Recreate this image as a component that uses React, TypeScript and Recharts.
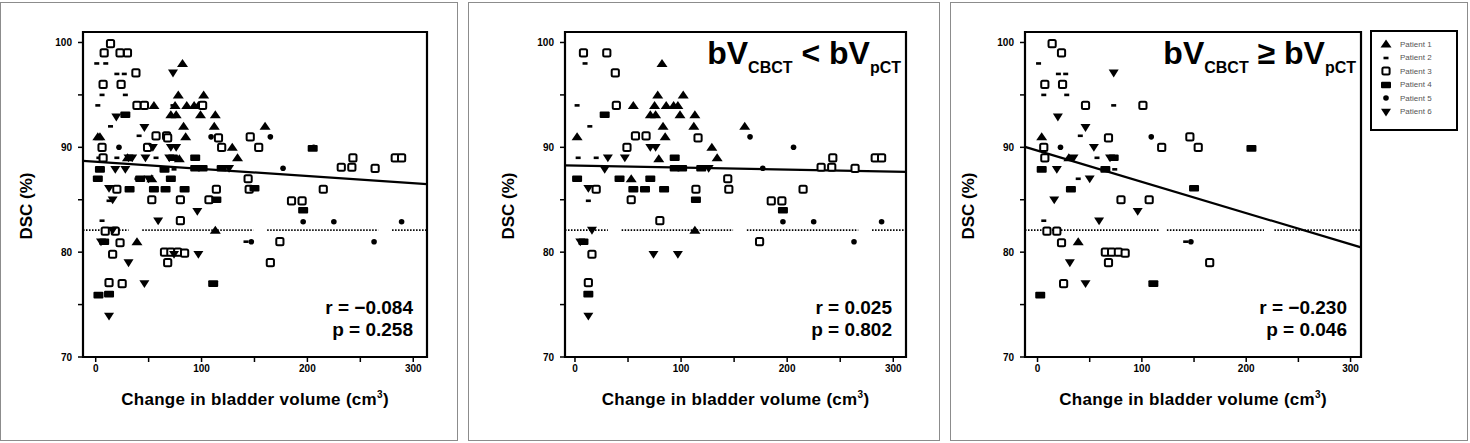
import React from "react";
import {
  ScatterChart,
  Scatter,
  XAxis,
  YAxis,
  ReferenceArea,
  ReferenceLine,
} from "recharts";

type Pt = [number, number];

// bV_CBCT < bV_pCT  (x: change in bladder volume cm3, y: DSC %)
const lessP1: Pt[] = [
  [82, 98], [55, 94], [2, 91], [78, 95], [102, 95], [75, 94], [86, 94], [93, 94],
  [97, 94], [71, 93.1], [76, 93.1], [99, 93.1], [113, 93.1], [83, 92], [112, 92],
  [160, 92], [85, 91], [129, 90], [79, 88.9], [134, 89], [53, 87], [113, 82.1],
];
const lessP2: Pt[] = [[9.5, 98], [2, 94], [14, 92], [3, 89], [20, 89], [12.6, 84.9]];
const lessP3: Pt[] = [
  [8, 99], [30, 99], [38, 97.1], [39, 94], [57, 91.1], [67, 91.1], [116, 90.9],
  [49, 90], [243, 89], [283, 89], [289, 89], [232, 88.1], [242, 88.1], [264, 88],
  [144, 87], [20, 86], [114, 86], [145, 86], [215, 86], [53, 85], [185, 84.9],
  [195, 84.9], [80, 83], [174, 81], [16, 79.8], [12.6, 77.1],
];
const lessP4: Pt[] = [
  [28, 93.1], [94, 89], [94, 88], [101, 88], [119, 88], [2, 87], [42, 87], [71, 87],
  [55, 86], [66, 86], [84, 86], [114, 85], [196, 84], [8, 81], [12.6, 76],
];
const lessP5: Pt[] = [[165, 91], [206, 90], [177, 88], [196, 82.9], [225, 82.9], [289, 82.9], [263, 81]];
const lessP6: Pt[] = [
  [71, 90], [76, 90], [31, 89], [47, 89], [28, 87.9], [126, 88], [12.6, 86.1],
  [16, 82.1], [5, 81], [74, 79.8], [97, 79.8], [12.6, 73.9],
];

// bV_CBCT >= bV_pCT
const moreP1: Pt[] = [[4, 91], [30, 89], [39, 81]];
const moreP2: Pt[] = [
  [1, 98], [20, 97], [27, 97], [6, 95], [28, 95], [73, 94], [41, 91.1], [57, 89],
  [74, 87.9], [39, 87], [6, 83], [142, 81],
];
const moreP3: Pt[] = [
  [14, 99.9], [23, 99], [7, 96], [24, 96], [46, 94], [101, 94], [68, 90.9], [146, 91],
  [6, 90], [119, 90], [154, 90], [7, 89], [80, 85], [107, 85], [9, 82], [18.5, 82],
  [23, 80.9], [65, 80], [71, 80], [77.5, 80], [84, 79.9], [68, 79], [165, 79], [25, 77],
];
const moreP4: Pt[] = [[205, 89.9], [73, 89], [4, 87.9], [65, 87.9], [32, 86], [150, 86.1], [111, 77], [2.6, 75.9]];
const moreP5: Pt[] = [[109, 91], [22, 90], [147, 81]];
const moreP6: Pt[] = [
  [73, 97.1], [19.5, 92.9], [46, 91.9], [54, 90], [34.5, 89], [69.5, 89], [18.5, 87.9],
  [50, 87], [16, 85], [96, 83.9], [59, 83], [31, 79], [46, 77],
];

const patients = ["Patient 1", "Patient 2", "Patient 3", "Patient 4", "Patient 5", "Patient 6"];
const xTicks = [0, 50, 100, 150, 200, 250, 300];
const xTickLabels = [0, 100, 200, 300];
const yTicks = [70, 75, 80, 85, 90, 95, 100];
const yTickLabels = [70, 80, 90, 100];
const dscThreshold = 82.1;

const fitAll = { intercept: 88.62, slope: -0.0068 };
const fitLess = { intercept: 88.26, slope: -0.0019 };
const fitMore = { intercept: 89.69, slope: -0.0298 };

const gapsAll: Pt[] = [[31, 44], [149, 162], [267, 280]];
const gapsLess: Pt[] = [[31, 44], [149, 162], [267, 280]];
const gapsMore: Pt[] = [[116, 124], [217, 227]];

const statsAll = ["r = \u22120.084", "p = 0.258"];
const statsLess = ["r = 0.025", "p = 0.802"];
const statsMore = ["r = \u22120.230", "p = 0.046"];

const FONT = '"Liberation Sans", Arial, sans-serif';

function Marker({ kind, cx, cy }: { kind: number; cx: number; cy: number }) {
  switch (kind) {
    case 0:
      return <polygon points={`${cx},${cy - 4.5} ${cx - 5.5},${cy + 3.5} ${cx + 5.5},${cy + 3.5}`} fill="#000" />;
    case 1:
      return <rect x={cx - 2.5} y={cy - 1.3} width={5} height={2.6} fill="#000" />;
    case 2:
      return (
        <rect x={cx - 3.6} y={cy - 3.6} width={7.2} height={7.2} rx={1.5}
          fill="#fff" stroke="#000" strokeWidth={2} />
      );
    case 3:
      return <rect x={cx - 5} y={cy - 3.3} width={10} height={6.6} rx={1} fill="#000" />;
    case 4:
      return <circle cx={cx} cy={cy} r={2.8} fill="#000" />;
    default:
      return <polygon points={`${cx - 5},${cy - 3.3} ${cx + 5},${cy - 3.3} ${cx},${cy + 4.5}`} fill="#000" />;
  }
}

const toPts = (arr: Pt[]) => arr.map(([x, y]) => ({ x, y }));

interface PanelProps {
  left: number;
  width: number;
  boxLeft: number;
  boxRight: number;
  domain: [number, number];
  series: Pt[][];
  fit: { intercept: number; slope: number };
  gaps: Pt[];
  stats: string[];
  title?: string;
}

function Panel({ left, width, boxLeft, boxRight, domain, series, fit, gaps, stats, title }: PanelProps) {
  const boxTop = 32;
  const boxBottom = 357;
  const margin = {
    top: boxTop,
    right: left + width - boxRight,
    bottom: 443 - boxBottom - 30,
    left: boxLeft - left - 60,
  };
  const [d0, d1] = domain;
  const segs: Pt[] = [];
  let start = d0;
  gaps.forEach(([a, b]) => {
    segs.push([start, a]);
    start = b;
  });
  segs.push([start, d1]);
  const boxCenter = (boxLeft + boxRight) / 2;

  return (
    <>
      <div
        style={{
          position: "absolute", left, top: 2, width: width - 2, height: 437,
          border: "1px solid #8c8c8c",
        }}
      />
      <div style={{ position: "absolute", left, top: 0 }}>
        <ScatterChart width={width} height={443} margin={margin}>
          <XAxis
            type="number"
            dataKey="x"
            domain={domain}
            ticks={xTicks}
            allowDataOverflow
            interval={0}
            tickFormatter={(v: number) => (xTickLabels.includes(v) ? String(v) : "")}
            axisLine={false}
            tickLine={{ stroke: "#000", strokeWidth: 1.5 }}
            tickSize={5}
            tickMargin={3}
            height={30}
            tick={{ fontSize: 10, fontWeight: 700, fill: "#000", fontFamily: FONT }}
          />
          <YAxis
            type="number"
            dataKey="y"
            domain={[70, 101]}
            ticks={yTicks}
            allowDataOverflow
            interval={0}
            tickFormatter={(v: number) => (yTickLabels.includes(v) ? String(v) : "")}
            axisLine={false}
            tickLine={{ stroke: "#000", strokeWidth: 1.5 }}
            tickSize={5}
            tickMargin={6}
            width={60}
            tick={{ fontSize: 10, fontWeight: 700, fill: "#000", fontFamily: FONT }}
          />
          <ReferenceArea
            x1={d0} x2={d1} y1={70} y2={101}
            fill="none" stroke="#000" strokeWidth={2.2} ifOverflow="visible"
          />
          {segs.map(([a, b], i) => (
            <ReferenceLine
              key={`d${i}`}
              segment={[{ x: a, y: dscThreshold }, { x: b, y: dscThreshold }]}
              stroke="#000" strokeWidth={1.6} strokeDasharray="1.5 1.5" ifOverflow="visible"
            />
          ))}
          <ReferenceLine
            segment={[
              { x: d0, y: fit.intercept + fit.slope * d0 },
              { x: d1, y: fit.intercept + fit.slope * d1 },
            ]}
            stroke="#000" strokeWidth={2.2} ifOverflow="visible"
          />
          {series.map((s, i) => (
            <Scatter
              key={patients[i]}
              name={patients[i]}
              data={toPts(s)}
              isAnimationActive={false}
              shape={(p: any) => <Marker kind={i} cx={p.cx} cy={p.cy} />}
            />
          ))}
        </ScatterChart>
      </div>
      <div
        style={{
          position: "absolute", left: boxLeft - 57, top: 206, transform: "translate(-50%, -50%) rotate(-90deg)",
          fontFamily: FONT, fontWeight: 700, fontSize: 17, whiteSpace: "nowrap", lineHeight: 1,
        }}
      >
        DSC (%)
      </div>
      <div
        style={{
          position: "absolute", left: boxCenter, top: 390, transform: "translateX(-50%)",
          fontFamily: FONT, fontWeight: 700, fontSize: 17, letterSpacing: 0.3, whiteSpace: "nowrap", lineHeight: 1,
        }}
      >
        Change in bladder volume (cm<sup style={{ fontSize: 10 }}>3</sup>)
      </div>
      <div
        style={{
          position: "absolute", right: 1470 - (boxRight - 14), top: 297, textAlign: "right",
          fontFamily: FONT, fontWeight: 700, fontSize: 19, lineHeight: "22px", whiteSpace: "nowrap",
        }}
      >
        <div>{stats[0]}</div>
        <div>{stats[1]}</div>
      </div>
      {title && (
        <div
          style={{
            position: "absolute", right: 1470 - (boxRight - 5), top: 37,
            fontFamily: FONT, fontWeight: 700, fontSize: 32, whiteSpace: "nowrap", lineHeight: 1,
          }}
        >
          bV<span style={{ fontSize: 16, verticalAlign: "-9px" }}>CBCT</span>
          {` ${title} `}bV<span style={{ fontSize: 16, verticalAlign: "-9px" }}>pCT</span>
        </div>
      )}
    </>
  );
}

function PatientLegend() {
  return (
    <div
      style={{
        position: "absolute", left: 1370, top: 30, width: 84, height: 97,
        border: "2px solid #000", background: "#fff",
      }}
    >
      {patients.map((name, i) => (
        <div
          key={name}
          style={{ position: "absolute", left: 8, top: 6 + i * 13.5, height: 12, display: "flex", alignItems: "center" }}
        >
          <svg width={12} height={12}>
            <Marker kind={i} cx={6} cy={6} />
          </svg>
          <span style={{ marginLeft: 8, fontFamily: FONT, fontSize: 8, color: "#555" }}>{name}</span>
        </div>
      ))}
    </div>
  );
}

export default function App() {
  const allSeries = [
    [...lessP1, ...moreP1],
    [...lessP2, ...moreP2],
    [...lessP3, ...moreP3],
    [...lessP4, ...moreP4],
    [...lessP5, ...moreP5],
    [...lessP6, ...moreP6],
  ];
  return (
    <div style={{ position: "absolute", left: 0, top: 0, width: 1470, height: 443, background: "#fff" }}>
      <Panel
        left={0} width={458} boxLeft={83} boxRight={427} domain={[-12, 313]}
        series={allSeries} fit={fitAll} gaps={gapsAll} stats={statsAll}
      />
      <Panel
        left={468} width={472} boxLeft={565} boxRight={906} domain={[-9.4, 312]}
        series={[lessP1, lessP2, lessP3, lessP4, lessP5, lessP6]} fit={fitLess} gaps={gapsLess}
        stats={statsLess} title="<"
      />
      <Panel
        left={950} width={518} boxLeft={1025} boxRight={1361} domain={[-12, 310]}
        series={[moreP1, moreP2, moreP3, moreP4, moreP5, moreP6]} fit={fitMore} gaps={gapsMore}
        stats={statsMore} title={"\u2265"}
      />
      <PatientLegend />
    </div>
  );
}
